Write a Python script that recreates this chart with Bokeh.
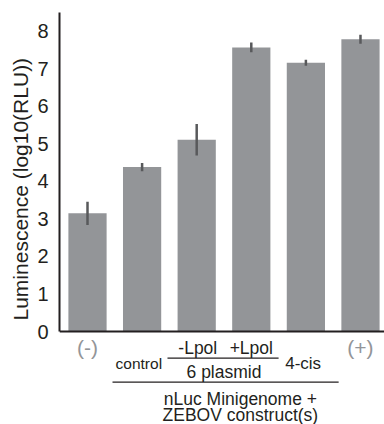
from bokeh.plotting import figure
from bokeh.models import Range1d, FixedTicker, Span, ColumnDataSource, Title
from bokeh.core.properties import value
from bokeh.embed import file_html
from bokeh.resources import INLINE

# ---- data ----
categories = ["(-)", "control", "-Lpol", "+Lpol", "4-cis", "(+)"]
values = [3.15, 4.38, 5.11, 7.57, 7.16, 7.79]
errors = [0.31, 0.11, 0.42, 0.13, 0.08, 0.12]
y_ticks = [0, 1, 2, 3, 4, 5, 6, 7, 8]
y_title = "Luminescence (log10(RLU))"
group_label = "6 plasmid"
construct_lines = ["nLuc Minigenome +", "ZEBOV construct(s)"]

FONT = "Liberation Sans"
BAR = "#939598"
ERR = "#58595b"
INK = "#231f20"

W, H = 384, 424
FRAME_TOP, BASE = 12, 331          # pixel rows of y=8.5 and y=0
PPU = (BASE - FRAME_TOP) / 8.5

def ypx(px):
    # pixel row (from top) -> data y
    return (BASE - px) / PPU

xs = list(range(len(categories)))
lower = [v - e for v, e in zip(values, errors)]
upper = [v + e for v, e in zip(values, errors)]
src = ColumnDataSource(dict(x=xs, top=values, lo=lower, hi=upper))

p = figure(width=W, height=H, output_backend="svg", toolbar_location=None,
           x_range=Range1d(-0.513, 5.44), y_range=Range1d(ypx(H), 8.5),
           x_axis_location=None,
           min_border_left=59, min_border_right=0, min_border_top=FRAME_TOP,
           min_border_bottom=0)
p.outline_line_color = None
p.grid.visible = False
p.background_fill_color = "white"

p.vbar(x="x", top="top", bottom=0, width=0.70, source=src,
       fill_color=BAR, line_color=None)
p.segment(x0="x", y0="lo", x1="x", y1="hi", source=src,
          line_color=ERR, line_width=2.5)

# baseline (x axis line)
p.add_layout(Span(location=0, dimension="width", line_color=INK, line_width=2))

# y axis
p.yaxis.bounds = (0, 8.5)
p.yaxis.ticker = FixedTicker(ticks=y_ticks)
p.yaxis.major_tick_line_color = None
p.yaxis.minor_tick_line_color = None
p.yaxis.axis_line_width = 2
p.yaxis.axis_line_color = INK
p.yaxis.major_label_text_font = FONT
p.yaxis.major_label_text_font_size = "20px"
p.yaxis.major_label_text_color = INK
p.yaxis.major_label_standoff = 5

# y title, starting from the bottom of the axis
p.add_layout(Title(text=y_title, text_font=FONT, text_font_size="21px",
                   text_font_style="normal", text_color=INK, align="left",
                   offset=H - 320, standoff=6), "left")

# category labels and group annotations
lx = [xs[0], xs[5], xs[1] - 0.06, xs[2] + 0.02, xs[3], xs[4] - 0.05,
      (xs[2] + xs[3]) / 2, 2.8, 2.8]
lrow = [347, 347, 363, 347, 347, 363, 371, 398, 414]
ltext = [categories[0], categories[5], categories[1], categories[2],
         categories[3], categories[4], group_label,
         construct_lines[0], construct_lines[1]]
lsize = ["21px", "21px", "15.5px", "17.5px", "17.5px", "17px",
         "17.5px", "17.5px", "17.5px"]
lcolor = [BAR, BAR, INK, INK, INK, INK, INK, INK, INK]
lsrc = ColumnDataSource(dict(x=lx, y=[ypx(r) for r in lrow], text=ltext,
                             size=lsize, color=lcolor))
p.text(x="x", y="y", text="text", source=lsrc, text_font=value(FONT),
       text_font_size="size", text_color="color",
       text_align="center", text_baseline="middle")

# bracket lines
seg = ColumnDataSource(dict(x0=[1.465, 0.458], x1=[3.5, 4.6],
                            y=[ypx(357.7), ypx(381.7)]))
p.segment(x0="x0", y0="y", x1="x1", y1="y", source=seg,
          line_color=INK, line_width=1.3)

open("out.html", "w").write(file_html(p, INLINE))
